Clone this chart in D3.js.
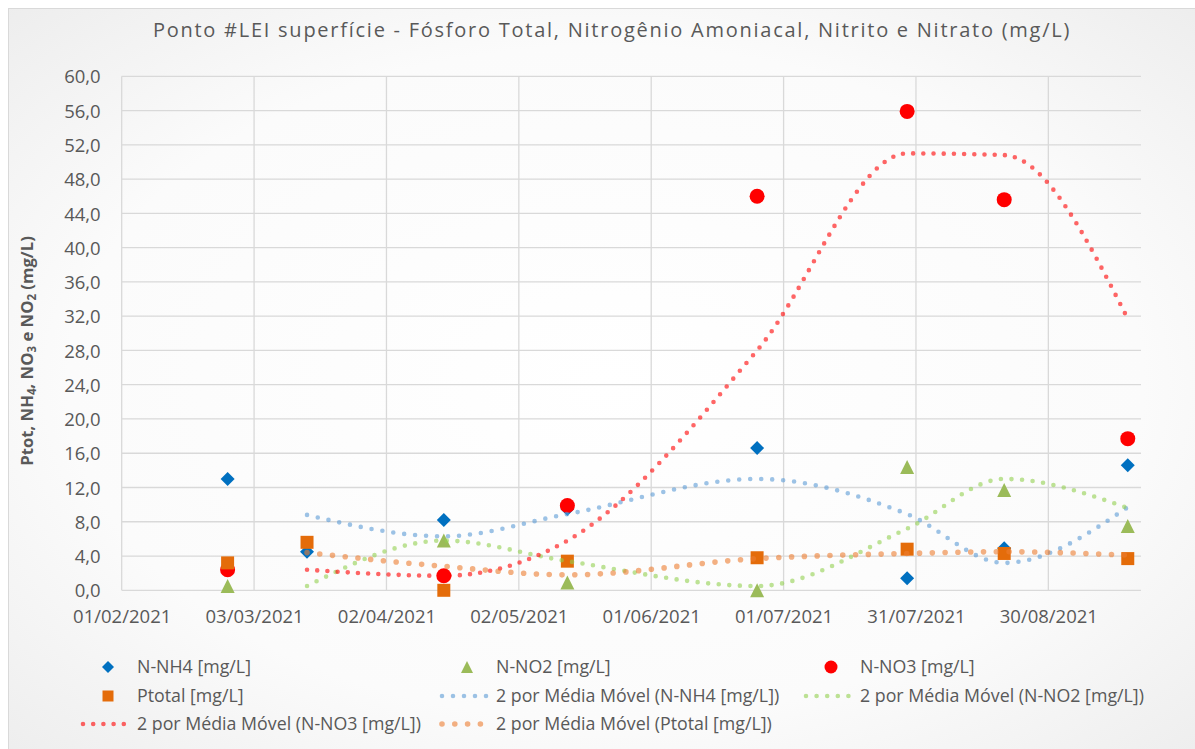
<!DOCTYPE html>
<html>
<head>
<meta charset="utf-8">
<script src="https://cdn.jsdelivr.net/npm/d3@7"></script>
<style>
  body { margin: 0; background: #ffffff; }
  text { font-family: "Open Sans", "DejaVu Sans", sans-serif; fill: #595959; }
</style>
</head>
<body>
<div id="chart"></div>
<script>
// Data
var dates = ["2021-02-25", "2021-03-15", "2021-04-15", "2021-05-13", "2021-06-25", "2021-07-29", "2021-08-20", "2021-09-17"];
var nh4  = [13.0, 4.5, 8.2, 9.5, 16.6, 1.4, 4.9, 14.6];
var no2  = [0.5, null, 5.8, 0.9, 0.0, 14.4, 11.7, 7.5];
var no3  = [2.4, null, 1.7, 9.9, 46.0, 55.9, 45.6, 17.7];
var ptot = [3.2, 5.6, 0.0, 3.4, 3.8, 4.8, 4.3, 3.7];

// 2-period moving average trendlines (start at the 2nd date)
var maDates = dates.slice(1);
var maNh4  = [8.8, 6.3, 8.9, 13.0, 8.9, 3.2, 9.7];
var maNo2  = [0.5, 5.8, 3.4, 0.5, 7.2, 13.0, 9.6];
var maNo3  = [2.4, 1.7, 5.8, 28.0, 51.0, 50.8, 31.7];
var maPtot = [4.4, 2.8, 1.8, 3.7, 4.3, 4.5, 4.1];

// Axis ticks
var xTicks = ["2021-02-01", "2021-03-03", "2021-04-02", "2021-05-02", "2021-06-01", "2021-07-01", "2021-07-31", "2021-08-30"];
var xDomain = ["2021-02-01", "2021-09-20"];
var yTicks = [0, 4, 8, 12, 16, 20, 24, 28, 32, 36, 40, 44, 48, 52, 56, 60];

var title = "Ponto #LEI superfície - Fósforo Total, Nitrogênio Amoniacal, Nitrito e Nitrato (mg/L)";

var width = 1195, height = 749;
var plotLeft = 121.7, plotRight = 1141, plotTop = 76.3, plotBottom = 590.3;

var parse = d3.utcParse("%Y-%m-%d");
var fmtDate = d3.utcFormat("%d/%m/%Y");
var fmtNum = d3.formatLocale({decimal: ",", thousands: ".", grouping: [3], currency: ["", ""]}).format(".1f");

var svg = d3.select("#chart")
  .append("svg")
    .attr("width", width)
    .attr("height", height);

// background with soft radial shading like the Excel style
var grad = svg.append("defs").append("radialGradient")
    .attr("id", "bg")
    .attr("cx", "50%").attr("cy", "50%").attr("r", "75%");
grad.append("stop").attr("offset", "0%").attr("stop-color", "#ffffff");
grad.append("stop").attr("offset", "60%").attr("stop-color", "#fbfbfb");
grad.append("stop").attr("offset", "100%").attr("stop-color", "#ebebeb");

svg.append("rect")
    .attr("x", 8.5).attr("y", 8.5)
    .attr("width", width).attr("height", height)
    .attr("fill", "url(#bg)")
    .attr("stroke", "#d9d9d9");

var x = d3.scaleUtc()
    .domain(xDomain.map(parse))
    .range([plotLeft, plotRight]);

var y = d3.scaleLinear()
    .domain([0, 60])
    .range([plotBottom, plotTop]);

// gridlines
svg.append("g").selectAll("line")
  .data(yTicks).enter()
  .append("line")
    .attr("x1", plotLeft).attr("x2", plotRight)
    .attr("y1", function(d) { return y(d); })
    .attr("y2", function(d) { return y(d); })
    .attr("stroke", "#d9d9d9")
    .attr("stroke-width", 1.3);

svg.append("g").selectAll("line")
  .data(xTicks).enter()
  .append("line")
    .attr("x1", function(d) { return x(parse(d)); })
    .attr("x2", function(d) { return x(parse(d)); })
    .attr("y1", plotTop).attr("y2", plotBottom)
    .attr("stroke", "#d9d9d9")
    .attr("stroke-width", 1.3);

// axes (lines hidden, labels only)
var yAxis = svg.append("g")
    .attr("transform", "translate(" + (plotLeft - 18) + ",0)")
    .call(d3.axisLeft(y).tickValues(yTicks).tickSize(0).tickFormat(fmtNum));
yAxis.select(".domain").remove();
yAxis.selectAll("text")
    .style("font-size", "18.5px")
    .style("font-family", "'Open Sans', sans-serif")
    .attr("fill", "#595959")
    .attr("dy", "0.36em");

var xAxis = svg.append("g")
    .attr("transform", "translate(0," + (plotBottom + 17) + ")")
    .call(d3.axisBottom(x).tickValues(xTicks.map(parse)).tickSize(0).tickFormat(fmtDate));
xAxis.select(".domain").remove();
xAxis.selectAll("text")
    .style("font-size", "18.5px")
    .style("font-family", "'Open Sans', sans-serif")
    .attr("fill", "#595959");

// title
svg.append("text")
    .attr("x", 612)
    .attr("y", 37)
    .attr("text-anchor", "middle")
    .style("font-size", "20px")
    .style("letter-spacing", "1.75px")
    .text(title);

// y axis title with subscripts
var yt = svg.append("text")
    .attr("transform", "translate(33,351) rotate(-90)")
    .attr("text-anchor", "middle")
    .style("font-size", "16.7px")
    .style("font-weight", "bold");
[["Ptot, NH", false], ["4", true], [", NO", false], ["3", true], [" e NO", false], ["2", true], [" (mg/L)", false]]
  .forEach(function(p) {
    yt.append("tspan")
      .attr("baseline-shift", p[1] ? "-25%" : null)
      .style("font-size", p[1] ? "11.5px" : null)
      .text(p[0]);
  });

// marker shapes
function shapePath(kind, s) {
  if (kind === "diamond") return "M0," + (-s) + "L" + s + ",0L0," + s + "L" + (-s) + ",0Z";
  if (kind === "triangle") return "M0," + (-s) + "L" + s + "," + s + "L" + (-s) + "," + s + "Z";
  if (kind === "square") return "M" + (-s) + "," + (-s) + "h" + (2 * s) + "v" + (2 * s) + "h" + (-2 * s) + "Z";
  return d3.symbol().type(d3.symbolCircle).size(Math.PI * s * s)();
}

var series = [
  {name: "N-NH4 [mg/L]", values: nh4, kind: "diamond", color: "#0070C0", size: 7},
  {name: "N-NO2 [mg/L]", values: no2, kind: "triangle", color: "#9BBB59", size: 7},
  {name: "N-NO3 [mg/L]", values: no3, kind: "circle", color: "#FF0000", size: 7.5},
  {name: "Ptotal [mg/L]", values: ptot, kind: "square", color: "#E46C0A", size: 6.5}
];

var trends = [
  {name: "2 por Média Móvel (N-NH4 [mg/L])", values: maNh4, color: "#5B9BD5", w: 4.6, gap: 11},
  {name: "2 por Média Móvel (N-NO2 [mg/L])", values: maNo2, color: "#92D050", w: 4.6, gap: 10.6},
  {name: "2 por Média Móvel (N-NO3 [mg/L])", values: maNo3, color: "#FF0000", w: 4.6, gap: 10.2},
  {name: "2 por Média Móvel (Ptotal [mg/L])", values: maPtot, color: "#ED7D31", w: 5.6, gap: 12.8}
];

series.forEach(function(s) {
  var pts = dates.map(function(d, i) { return {date: parse(d), v: s.values[i]}; })
                 .filter(function(p) { return p.v !== null; });
  svg.append("g").selectAll("path")
    .data(pts).enter()
    .append("path")
      .attr("d", shapePath(s.kind, s.size))
      .attr("transform", function(p) { return "translate(" + x(p.date) + "," + y(p.v) + ")"; })
      .attr("fill", s.color);
});

var line = d3.line()
    .x(function(p) { return x(p.date); })
    .y(function(p) { return y(p.v); })
    .curve(d3.curveMonotoneX);

trends.forEach(function(t) {
  var pts = maDates.map(function(d, i) { return {date: parse(d), v: t.values[i]}; });
  svg.append("path")
    .datum(pts)
    .attr("d", line)
    .attr("fill", "none")
    .attr("stroke", t.color)
    .attr("stroke-opacity", 0.6)
    .attr("stroke-width", t.w)
    .attr("stroke-linecap", "round")
    .attr("stroke-dasharray", "0 " + t.gap);
});

// legend: 3 columns, row-major in series order
var legendItems = series.map(function(s) { return {type: "marker", d: s}; })
  .concat(trends.map(function(t) { return {type: "line", d: t}; }));
var colX = [137, 496, 860];
var rowY = [667, 696, 724];

legendItems.forEach(function(item, i) {
  var cx = colX[i % 3], cy = rowY[Math.floor(i / 3)];
  var g = svg.append("g").attr("transform", "translate(" + cx + "," + cy + ")");
  if (item.type === "marker") {
    g.append("path")
      .attr("d", shapePath(item.d.kind, item.d.size - 1))
      .attr("transform", "translate(-29,0)")
      .attr("fill", item.d.color);
  } else {
    g.append("line")
      .attr("x1", -54).attr("x2", -9)
      .attr("y1", 0).attr("y2", 0)
      .attr("stroke", item.d.color)
      .attr("stroke-opacity", 0.6)
      .attr("stroke-width", item.d.w)
      .attr("stroke-linecap", "round")
      .attr("stroke-dasharray", "0 " + item.d.gap);
  }
  g.append("text")
    .attr("x", 0)
    .attr("y", 0)
    .attr("dy", "0.35em")
    .style("font-size", "17.8px")
    .text(item.d.name);
});
</script>
</body>
</html>
